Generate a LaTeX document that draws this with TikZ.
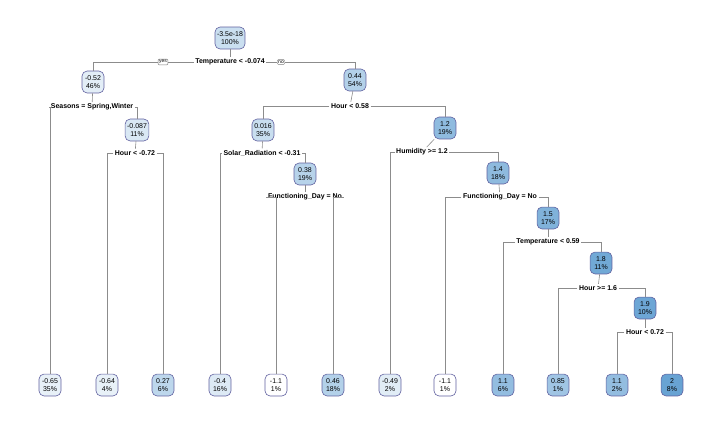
\documentclass[tikz,border=0pt]{standalone}
\usepackage{fontspec}
\setmainfont{Liberation Sans}
\usepackage{xcolor}
\usepackage{tikz}
\definecolor{treeblue}{RGB}{66,140,200}
\tikzset{
  box/.style={draw=gray!75!blue, fill=treeblue!#1!white, rounded corners=5pt, line width=0.6pt,
    inner sep=2pt, minimum width=22pt, minimum height=22pt, align=center, font=\fontsize{7}{8}\selectfont},
  split/.style={fill=white, inner sep=1.5pt, font=\bfseries\fontsize{7}{8}\selectfont},
  yn/.style={draw=gray, fill=white, inner sep=1pt, rounded corners=1pt, font=\fontsize{5}{6}\selectfont},
  edge/.style={draw=gray!90, line width=0.6pt}
}
\begin{document}
\begin{tikzpicture}[x=1bp,y=-1bp]
\useasboundingbox (0,0) rectangle (720,425);
% Inner Nodes
\node[box=28] (n1) at (230,38) {-3.5e-18\\100\%};
\node[box=15] (n2) at (93,82) {-0.52\\46\%};
\node[box=20] (n5) at (137,130) {-0.087\\11\%};
\node[box=40] (n3) at (355,80) {0.44\\54\%};
\node[box=29] (n6) at (263,130) {0.016\\35\%};
\node[box=38] (n13) at (305,174) {0.38\\19\%};
\node[box=59] (n7) at (445,128) {1.2\\19\%};
\node[box=60] (n15) at (498,173) {1.4\\18\%};
\node[box=67] (n31) at (548,218) {1.5\\17\%};
\node[box=75] (n63) at (601,263) {1.8\\11\%};
\node[box=77] (n127) at (645,308) {1.9\\10\%};
% Leaves
\node[box=12] (l1) at (50,385) {-0.65\\35\%};
\node[box=12] (l2) at (107,385) {-0.64\\4\%};
\node[box=35] (l3) at (163,385) {0.27\\6\%};
\node[box=18] (l4) at (220,385) {-0.4\\16\%};
\node[box=0] (l5) at (276,385) {-1.1\\1\%};
\node[box=40] (l6) at (333,385) {0.46\\18\%};
\node[box=16] (l7) at (390,385) {-0.49\\2\%};
\node[box=0] (l8) at (445,385) {-1.1\\1\%};
\node[box=57] (l9) at (503,385) {1.1\\6\%};
\node[box=50] (l10) at (558,385) {0.85\\1\%};
\node[box=57] (l11) at (617,385) {1.1\\2\%};
\node[box=80] (l12) at (672,385) {2\\8\%};
% Split Labels
\node[split] (s1) at (230,62) {Temperature < -0.074};
\node[split] (s2) at (92,107) {Seasons = Spring,Winter};
\node[split] (s5) at (135,153) {Hour < -0.72};
\node[split] (s3) at (350,106) {Hour < 0.58};
\node[split] (s6) at (262,153) {Solar\_Radiation < -0.31};
\node[split] (s13) at (305,197) {Functioning\_Day = No};
\node[split] (s7) at (422,152) {Humidity >= 1.2};
\node[split] (s15) at (500,197) {Functioning\_Day = No};
\node[split] (s31) at (548,242) {Temperature < 0.59};
\node[split] (s63) at (598,288) {Hour >= 1.6};
\node[split] (s127) at (645,332) {Hour < 0.72};
% Connectors
\draw[edge] (n1) -- (s1);
\draw[edge] (s1.west) -| (n2.north);
\draw[edge] (s1.east) -| (n3.north);
\draw[edge] (n2) -- (s2);
\draw[edge] (s2.west) -| (l1.north);
\draw[edge] (s2.east) -| (n5.north);
\draw[edge] (n5) -- (s5);
\draw[edge] (s5.west) -| (l2.north);
\draw[edge] (s5.east) -| (l3.north);
\draw[edge] (n3) -- (s3);
\draw[edge] (s3.west) -| (n6.north);
\draw[edge] (s3.east) -| (n7.north);
\draw[edge] (n6) -- (s6);
\draw[edge] (s6.west) -| (l4.north);
\draw[edge] (s6.east) -| (n13.north);
\draw[edge] (n13) -- (s13);
\draw[edge] (s13.west) -| (l5.north);
\draw[edge] (s13.east) -| (l6.north);
\draw[edge] (n7) -- (s7);
\draw[edge] (s7.west) -| (l7.north);
\draw[edge] (s7.east) -| (n15.north);
\draw[edge] (n15) -- (s15);
\draw[edge] (s15.west) -| (l8.north);
\draw[edge] (s15.east) -| (n31.north);
\draw[edge] (n31) -- (s31);
\draw[edge] (s31.west) -| (l9.north);
\draw[edge] (s31.east) -| (n63.north);
\draw[edge] (n63) -- (s63);
\draw[edge] (s63.west) -| (l10.north);
\draw[edge] (s63.east) -| (n127.north);
\draw[edge] (n127) -- (s127);
\draw[edge] (s127.west) -| (l11.north);
\draw[edge] (s127.east) -| (l12.north);
% Yes / No tags
\node[yn] (yes) at (163,62) {yes};
\node[yn] (no) at (281,62) {no};
\end{tikzpicture}
\end{document}
